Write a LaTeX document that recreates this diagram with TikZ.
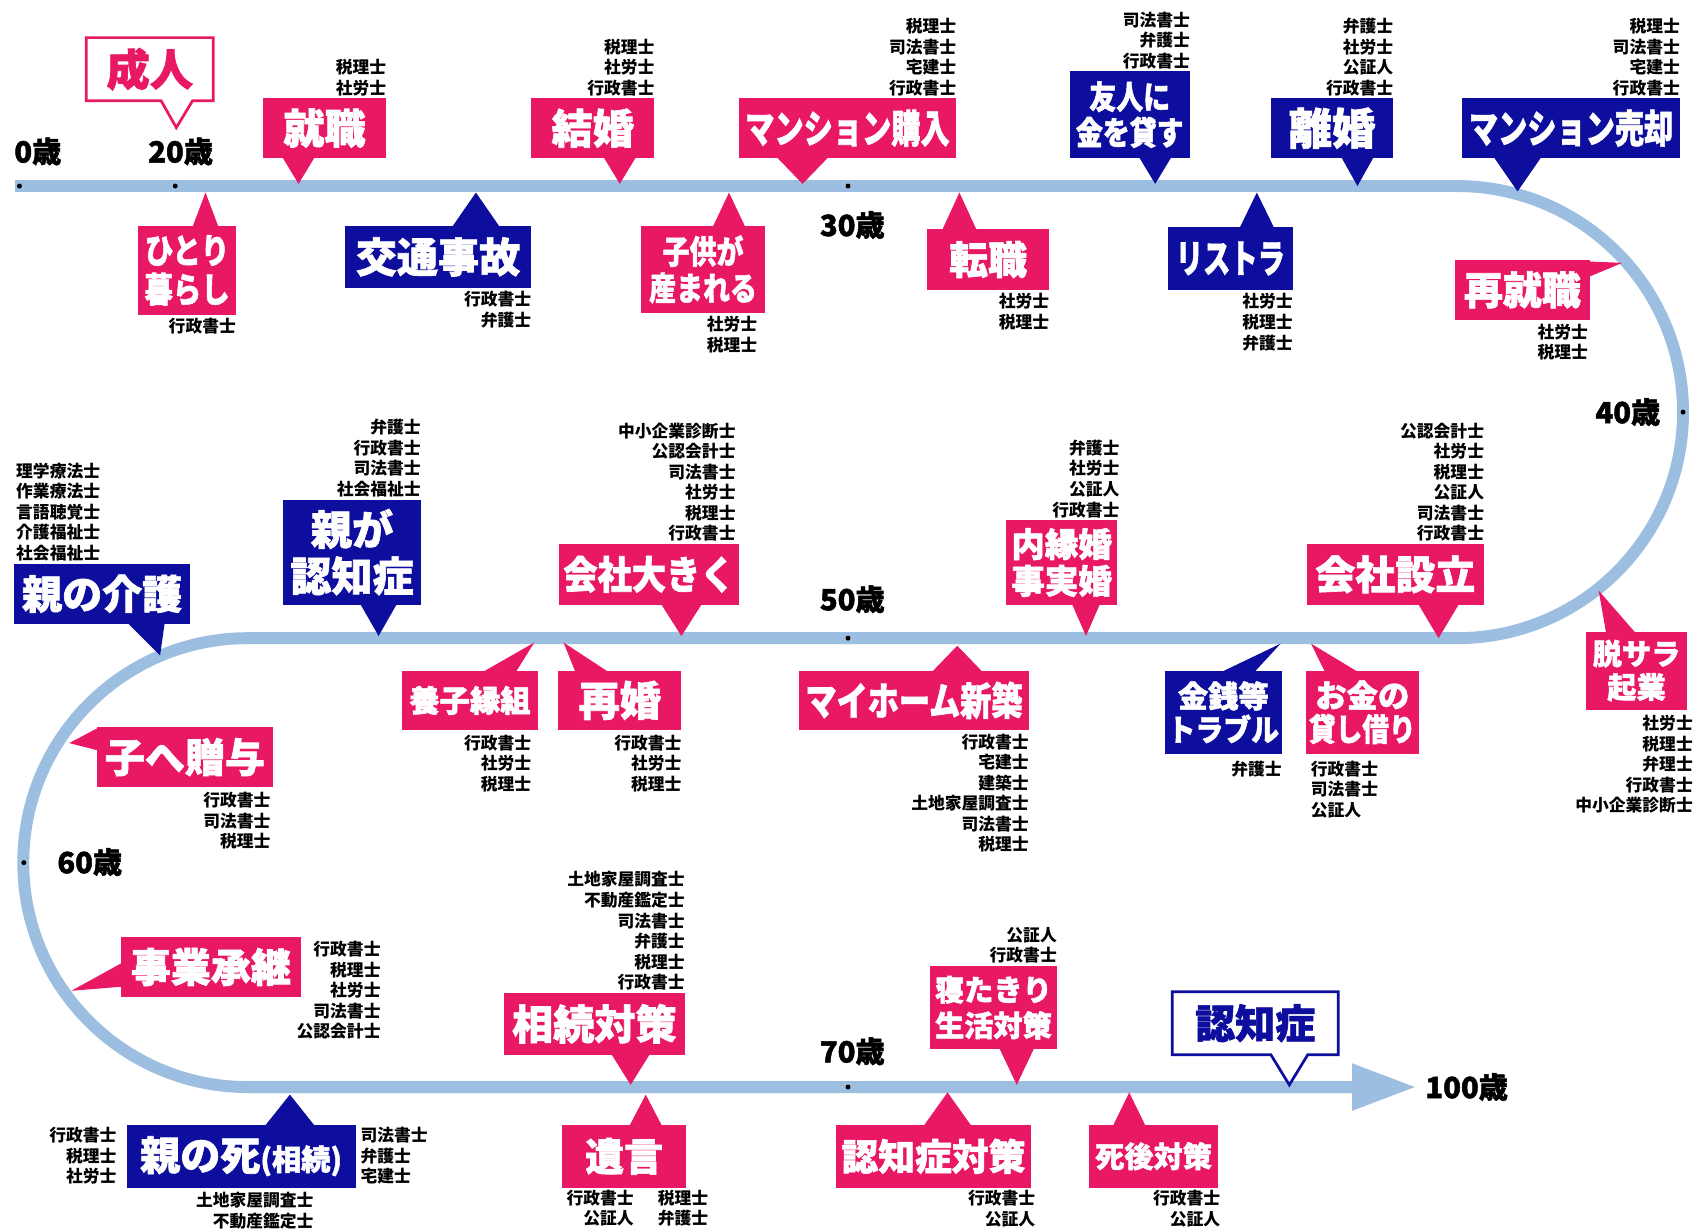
\documentclass[tikz,border=0pt]{standalone}
\usepackage{fontspec}
\usepackage{graphicx}
\setmainfont{Noto Sans CJK JP}
\newfontfamily\heavyfont{Noto Sans CJK JP}[BoldFeatures={FakeBold=1.6}]
\usetikzlibrary{calc}

\definecolor{trackblue}{RGB}{156,190,224}
\definecolor{lifepink}{RGB}{232,24,100}
\definecolor{lifeblue}{RGB}{14,14,158}

\newcommand{\squeeze}[2]{\scalebox{#1}[1]{#2}}
\newcommand{\pointdown}[3]{\fill[#1] ($(#2 tip |- #2.south)+(-#3,-1)$) -- (#2 tip) -- ($(#2 tip |- #2.south)+(#3,-1)$) -- cycle;}
\newcommand{\pointup}[3]{\fill[#1] ($(#2 tip |- #2.north)+(-#3,1)$) -- (#2 tip) -- ($(#2 tip |- #2.north)+(#3,1)$) -- cycle;}

\begin{document}
\begin{tikzpicture}[x=1pt,y=-1pt,
  event/.style={rectangle,inner sep=0pt,text=white,align=center},
  pinkbox/.style={event,fill=lifepink},
  bluebox/.style={event,fill=lifeblue},
  framebox/.style={event,fill=white},
  boxsize/.style 2 args={minimum width=#1pt,minimum height=#2pt},
  evfont/.style 2 args={font=\heavyfont\bfseries\fontsize{#1}{#2}\selectfont},
  quals/.style={inner sep=0pt,align=right,font=\bfseries\fontsize{15.5}{19}\selectfont},
  age/.style={inner sep=0pt,font=\heavyfont\bfseries\fontsize{27}{27}\selectfont}]
  \fill[white,use as bounding box] (0,0) rectangle (1568,1138);

  \coordinate (track start) at (14,172);
  \coordinate (track end) at (1250,1005);
  \coordinate (end tip) at (1308,1005);
  \draw[trackblue,line width=11pt] (track start) -- (1347,172) arc[start angle=-90,end angle=90,radius=209]
    -- (229,590) arc[start angle=270,end angle=90,radius=207.5] -- (track end);
  \fill[trackblue] ($(track end)+(0,-22)$) -- (end tip) -- ($(track end)+(0,22)$) -- cycle;

  \foreach \x/\y in {18/172,162/172,784/172,1556/381,784/590,22/797.5,784/1005}
    \fill (\x,\y) circle[radius=2.3pt];
  \node[age] (age 0) at (35,140) {0歳};
  \node[age] (age 20) at (167,140) {20歳};
  \node[age] (age 30) at (788,208) {30歳};
  \node[age] (age 40) at (1505,381) {40歳};
  \node[age] (age 50) at (788,554) {50歳};
  \node[age] (age 60) at (83,797) {60歳};
  \node[age] (age 70) at (788,972) {70歳};
  \node[age] (age 100) at (1356,1005) {100歳};

  \node[framebox,boxsize={117}{58},evfont={40}{42},text=lifepink] (adult) at (138.5,64) {成人};
  \coordinate (adult tip) at (163,118);
  \fill[white] ($(adult tip |- adult.south)+(-14,0)$) -- (adult tip) -- ($(adult tip |- adult.south)+(15,0)$) -- cycle;
  \draw[lifepink,line width=2.5pt,line join=miter] (adult.north west) -- (adult.north east) -- (adult.south east)
    -- ($(adult tip |- adult.south)+(15,0)$) -- (adult tip) -- ($(adult tip |- adult.south)+(-14,0)$) -- (adult.south west) -- cycle;

  \node[pinkbox,boxsize={114}{55},evfont={38}{40}] (job) at (300,118.5) {就職};
  \coordinate (job tip) at (276,170);
  \pointdown{lifepink}{job}{15}
  \node[quals,anchor=south east] (job q) at ([yshift=2pt]job.north east) {税理士\\社労士};

  \node[pinkbox,boxsize={114}{55},evfont={38}{40}] (marriage) at (548,118.5) {結婚};
  \coordinate (marriage tip) at (573,170);
  \pointdown{lifepink}{marriage}{15}
  \node[quals,anchor=south east] (marriage q) at ([yshift=2pt]marriage.north east) {税理士\\社労士\\行政書士};

  \node[pinkbox,boxsize={201}{55},evfont={36}{40}] (condo buy) at (783.5,118.5) {\squeeze{0.75}{マンション購入}};
  \coordinate (condo buy tip) at (742,170);
  \pointdown{lifepink}{condo buy}{24}
  \node[quals,anchor=south east] (condo buy q) at ([yshift=2pt]condo buy.north east) {税理士\\司法書士\\宅建士\\行政書士};

  \node[bluebox,boxsize={111}{80},evfont={30}{33}] (lend) at (1044.5,106) {\squeeze{0.83}{友人に}\\\squeeze{0.83}{金を貸す}};
  \coordinate (lend tip) at (1068,170);
  \pointdown{lifeblue}{lend}{15}
  \node[quals,anchor=south east] (lend q) at ([yshift=2pt]lend.north east) {司法書士\\弁護士\\行政書士};

  \node[bluebox,boxsize={113}{55},evfont={40}{42}] (divorce) at (1231.5,118.5) {離婚};
  \coordinate (divorce tip) at (1255,172);
  \pointdown{lifeblue}{divorce}{15}
  \node[quals,anchor=south east] (divorce q) at ([yshift=2pt]divorce.north east) {弁護士\\社労士\\公証人\\行政書士};

  \node[bluebox,boxsize={201}{55},evfont={36}{40}] (condo sell) at (1452.5,118.5) {\squeeze{0.75}{マンション売却}};
  \coordinate (condo sell tip) at (1403,177);
  \pointdown{lifeblue}{condo sell}{22}
  \node[quals,anchor=south east] (condo sell q) at ([yshift=2pt]condo sell.north east) {税理士\\司法書士\\宅建士\\行政書士};

  \node[pinkbox,boxsize={90}{82},evfont={32}{36}] (alone) at (173,250) {\squeeze{0.82}{ひとり}\\\squeeze{0.82}{暮らし}};
  \coordinate (alone tip) at (190,178);
  \pointup{lifepink}{alone}{12}
  \node[quals,anchor=north east] (alone q) at ([yshift=-3pt]alone.south east) {行政書士};

  \node[bluebox,boxsize={172}{57},evfont={38}{40}] (accident) at (405,237.5) {交通事故};
  \coordinate (accident tip) at (440,178);
  \pointup{lifeblue}{accident}{22}
  \node[quals,anchor=north east] (accident q) at ([yshift=-3pt]accident.south east) {行政書士\\弁護士};

  \node[pinkbox,boxsize={114}{80},evfont={30}{34}] (birth) at (650,249) {\squeeze{0.83}{子供が}\\\squeeze{0.83}{産まれる}};
  \coordinate (birth tip) at (674,178);
  \pointup{lifepink}{birth}{15}
  \node[quals,anchor=north east] (birth q) at ([xshift=-7pt,yshift=-3pt]birth.south east) {社労士\\税理士};

  \node[pinkbox,boxsize={113}{56},evfont={36}{40}] (job change) at (913.5,240) {転職};
  \coordinate (job change tip) at (887,178);
  \pointup{lifepink}{job change}{16}
  \node[quals,anchor=north east] (job change q) at ([yshift=-3pt]job change.south east) {社労士\\税理士};

  \node[bluebox,boxsize={115}{58},evfont={36}{40}] (layoff) at (1137.5,239) {\squeeze{0.7}{リストラ}};
  \coordinate (layoff tip) at (1162,178);
  \pointup{lifeblue}{layoff}{16}
  \node[quals,anchor=north east] (layoff q) at ([yshift=-3pt]layoff.south east) {社労士\\税理士\\弁護士};

  \node[pinkbox,boxsize={125}{56},evfont={36}{40}] (rehire) at (1407.5,268) {再就職};
  \coordinate (rehire tip) at (1500,243);
  \fill[lifepink] ($(rehire.north east)+(-26,1)$) -- (rehire tip) -- ($(rehire.north east)+(-1,16)$) -- cycle;
  \node[quals,anchor=north east] (rehire q) at ([xshift=-2pt,yshift=-3pt]rehire.south east) {社労士\\税理士};

  \node[bluebox,boxsize={163}{56},evfont={37}{40}] (care) at (94.5,549) {親の介護};
  \coordinate (care tip) at (148,606);
  \fill[lifeblue] ($(care.south east)+(-58,-1)$) -- (care tip) -- ($(care.south east)+(-24,-1)$) -- cycle;
  \node[quals,align=left,anchor=south west] (care q) at ([xshift=2pt,yshift=2pt]care.north west) {理学療法士\\作業療法士\\言語聴覚士\\介護福祉士\\社会福祉士};

  \node[bluebox,boxsize={127}{97},evfont={38}{43}] (parent dementia) at (325.5,510.5) {親が\\認知症};
  \coordinate (parent dementia tip) at (350,588);
  \pointdown{lifeblue}{parent dementia}{17}
  \node[quals,anchor=south east] (parent dementia q) at ([yshift=2pt]parent dementia.north east) {弁護士\\行政書士\\司法書士\\社会福祉士};

  \node[pinkbox,boxsize={166}{56},evfont={36}{40}] (grow) at (600,531) {\squeeze{0.88}{会社大きく}};
  \coordinate (grow tip) at (630,588);
  \pointdown{lifepink}{grow}{19}
  \node[quals,anchor=south east] (grow q) at ([xshift=-3pt,yshift=2pt]grow.north east) {中小企業診断士\\公認会計士\\司法書士\\社労士\\税理士\\行政書士};

  \node[pinkbox,boxsize={103}{78},evfont={31}{34}] (common law) at (981.5,520) {内縁婚\\事実婚};
  \coordinate (common law tip) at (1004,588);
  \pointdown{lifepink}{common law}{13}
  \node[quals,anchor=south east] (common law q) at ([xshift=2pt,yshift=2pt]common law.north east) {弁護士\\社労士\\公証人\\行政書士};

  \node[pinkbox,boxsize={164}{56},evfont={37}{40}] (founding) at (1290,531) {会社設立};
  \coordinate (founding tip) at (1330,590);
  \pointdown{lifepink}{founding}{19}
  \node[quals,anchor=south east] (founding q) at ([yshift=2pt]founding.north east) {公認会計士\\社労士\\税理士\\公証人\\司法書士\\行政書士};

  \node[pinkbox,boxsize={125}{55},evfont={28}{30}] (adoption) at (434.5,647.5) {養子縁組};
  \coordinate (adoption tip) at (494,594);
  \fill[lifepink] ($(adoption.north east)+(-50,1)$) -- (adoption tip) -- ($(adoption.north east)+(-20,1)$) -- cycle;
  \node[quals,anchor=north east] (adoption q) at ([xshift=-6pt,yshift=-4pt]adoption.south east) {行政書士\\社労士\\税理士};

  \node[pinkbox,boxsize={114}{55},evfont={38}{40}] (remarriage) at (573,647.5) {再婚};
  \coordinate (remarriage tip) at (521,594);
  \fill[lifepink] ($(remarriage.north west)+(16,1)$) -- (remarriage tip) -- ($(remarriage.north west)+(46,1)$) -- cycle;
  \node[quals,anchor=north east] (remarriage q) at ([yshift=-4pt]remarriage.south east) {行政書士\\社労士\\税理士};

  \node[pinkbox,boxsize={212}{55},evfont={36}{40}] (new house) at (845,647.5) {\squeeze{0.8}{マイホーム新築}};
  \coordinate (new house tip) at (885,597);
  \pointup{lifepink}{new house}{23}
  \node[quals,anchor=north east] (new house q) at ([yshift=-3pt]new house.south east) {行政書士\\宅建士\\建築士\\土地家屋調査士\\司法書士\\税理士};

  \node[bluebox,boxsize={108}{77},evfont={28}{31}] (trouble) at (1131,658.5) {金銭等\\\squeeze{0.92}{トラブル}};
  \coordinate (trouble tip) at (1184,595);
  \fill[lifeblue] ($(trouble.north east)+(-55,1)$) -- (trouble tip) -- ($(trouble.north east)+(-25,1)$) -- cycle;
  \node[quals,anchor=north east] (trouble q) at ([yshift=-6pt]trouble.south east) {弁護士};

  \node[pinkbox,boxsize={105}{77},evfont={29}{31}] (loan) at (1259.5,658.5) {お金の\\\squeeze{0.85}{貸し借り}};
  \coordinate (loan tip) at (1212,595);
  \fill[lifepink] ($(loan.north west)+(18,1)$) -- (loan tip) -- ($(loan.north west)+(48,1)$) -- cycle;
  \node[quals,align=left,anchor=north west] (loan q) at ([xshift=5pt,yshift=-6pt]loan.south west) {行政書士\\司法書士\\公証人};

  \node[pinkbox,boxsize={94}{72},evfont={27}{31}] (startup) at (1513,620) {脱サラ\\起業};
  \coordinate (startup tip) at (1478,546);
  \fill[lifepink] ($(startup.north west)+(19,1)$) -- (startup tip) -- ($(startup.north west)+(46,1)$) -- cycle;
  \node[quals,anchor=north east] (startup q) at ([xshift=5pt,yshift=-5pt]startup.south east) {社労士\\税理士\\弁理士\\行政書士\\中小企業診断士};

  \node[pinkbox,boxsize={162}{56},evfont={37}{40}] (gift) at (171,700) {子へ贈与};
  \coordinate (gift tip) at (64,687);
  \fill[lifepink] ($(gift.north west)+(1,1)$) -- (gift tip) -- ($(gift.north west)+(1,22)$) -- cycle;
  \node[quals,anchor=north east] (gift q) at ([xshift=-2pt,yshift=-4pt]gift.south east) {行政書士\\司法書士\\税理士};

  \node[pinkbox,boxsize={166}{56},evfont={37}{40}] (succession) at (195,894) {事業承継};
  \coordinate (succession tip) at (66,916);
  \fill[lifepink] ($(succession.south west)+(1,-32)$) -- (succession tip) -- ($(succession.south west)+(1,-10)$) -- cycle;
  \node[quals,anchor=north east] (succession q) at (352,870) {行政書士\\税理士\\社労士\\司法書士\\公認会計士};

  \node[pinkbox,boxsize={167}{57},evfont={38}{40}] (inheritance) at (549.5,946.5) {相続対策};
  \coordinate (inheritance tip) at (583,1003);
  \pointdown{lifepink}{inheritance}{18}
  \node[quals,anchor=south east] (inheritance q) at ([yshift=2pt]inheritance.north east) {土地家屋調査士\\不動産鑑定士\\司法書士\\弁護士\\税理士\\行政書士};

  \node[pinkbox,boxsize={117}{77},evfont={27}{33}] (bedridden) at (918.5,931.5) {寝たきり\\生活対策};
  \coordinate (bedridden tip) at (940,1003);
  \pointdown{lifepink}{bedridden}{16}
  \node[quals,anchor=south east] (bedridden q) at ([yshift=2pt]bedridden.north east) {公証人\\行政書士};

  \node[framebox,boxsize={153}{58},evfont={37}{40},text=lifeblue] (dementia) at (1160.5,946) {認知症};
  \coordinate (dementia tip) at (1192,1003);
  \fill[white] ($(dementia tip |- dementia.south)+(-17,0)$) -- (dementia tip) -- ($(dementia tip |- dementia.south)+(17,0)$) -- cycle;
  \draw[lifeblue,line width=2.5pt,line join=miter] (dementia.north west) -- (dementia.north east) -- (dementia.south east)
    -- ($(dementia tip |- dementia.south)+(17,0)$) -- (dementia tip) -- ($(dementia tip |- dementia.south)+(-17,0)$) -- (dementia.south west) -- cycle;

  \node[bluebox,boxsize={212}{58},evfont={37}{40}] (parent death) at (223,1069) {親の死{\fontsize{27}{29}\selectfont(相続)}};
  \coordinate (parent death tip) at (268,1012);
  \pointup{lifeblue}{parent death}{23}
  \node[quals,anchor=north east] (parent death q1) at ([xshift=-9pt,yshift=-2pt]parent death.north west) {行政書士\\税理士\\社労士};
  \node[quals,align=left,anchor=north west] (parent death q2) at ([xshift=4pt,yshift=-2pt]parent death.north east) {司法書士\\弁護士\\宅建士};
  \node[quals,anchor=north east] (parent death q3) at (290,1102) {土地家屋調査士\\不動産鑑定士};

  \node[pinkbox,boxsize={114}{58},evfont={36}{40}] (will) at (577,1069) {遺言};
  \coordinate (will tip) at (597,1012);
  \pointup{lifepink}{will}{15}
  \node[quals,anchor=north east] (will q1) at (586,1100) {行政書士\\公証人};
  \node[quals,anchor=north east] (will q2) at (655,1100) {税理士\\弁護士};

  \node[pinkbox,boxsize={180}{58},evfont={34}{40}] (dementia plan) at (863,1069) {認知症対策};
  \coordinate (dementia plan tip) at (876,1010);
  \pointup{lifepink}{dementia plan}{22}
  \node[quals,anchor=north east] (dementia plan q) at ([xshift=4pt,yshift=-2pt]dementia plan.south east) {行政書士\\公証人};

  \node[pinkbox,boxsize={119}{58},evfont={27}{30}] (after death) at (1066.5,1069) {死後対策};
  \coordinate (after death tip) at (1044,1010);
  \pointup{lifepink}{after death}{15}
  \node[quals,anchor=north east] (after death q) at ([xshift=2pt,yshift=-2pt]after death.south east) {行政書士\\公証人};
\end{tikzpicture}
\end{document}
